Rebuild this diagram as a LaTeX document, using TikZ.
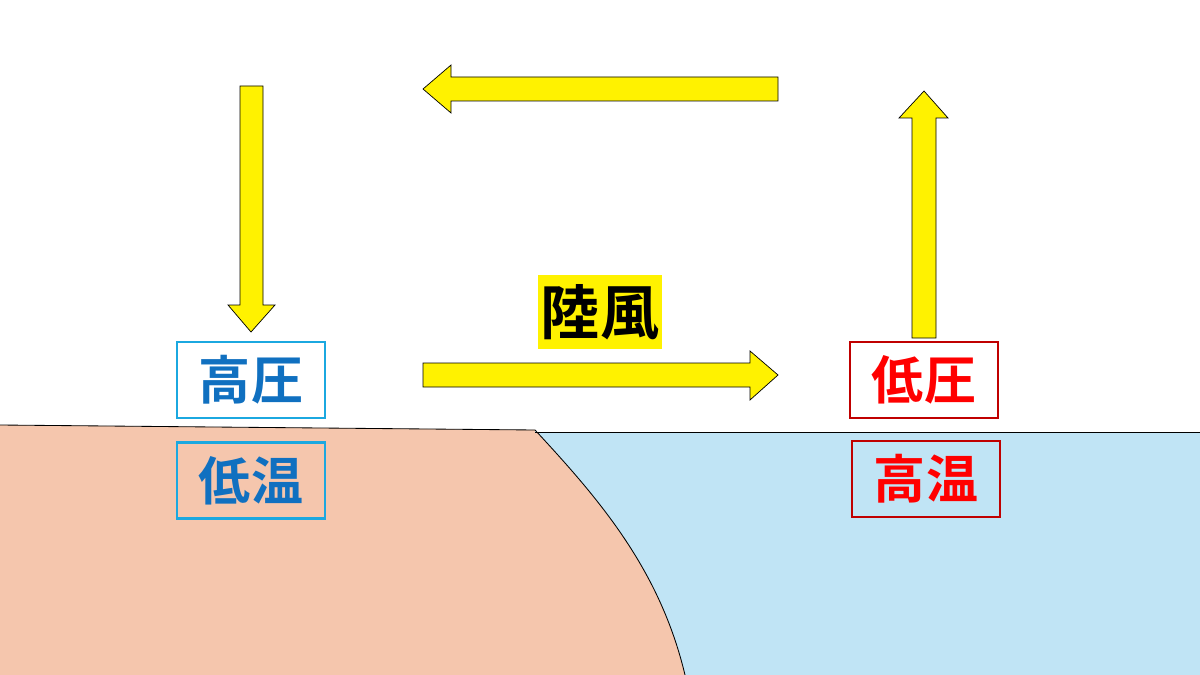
\documentclass[tikz,border=0pt]{standalone}
\usepackage{fontspec}
\newfontfamily\cjk{Noto Sans CJK JP}[BoldFont={* Bold}]
\usetikzlibrary{positioning}
\definecolor{land}{HTML}{F5C6AD}
\definecolor{sea}{HTML}{C0E4F5}
\definecolor{coolline}{HTML}{1BA8E0}
\definecolor{cooltext}{HTML}{1070C0}
\definecolor{warmline}{HTML}{C00000}
\tikzset{
  cold/.style={draw=coolline, line width=1.8pt, text=cooltext, inner sep=0pt, minimum width=3.7cm, minimum height=1.9cm, font=\cjk\bfseries\fontsize{37}{37}\selectfont},
  hot/.style={draw=warmline, line width=1.8pt, text=red, inner sep=0pt, minimum width=3.7cm, minimum height=1.9cm, font=\cjk\bfseries\fontsize{37}{37}\selectfont},
  wind/.style={fill=yellow, draw=black, line width=0.5pt},
}
\begin{document}
\begin{tikzpicture}[x=0.025cm,y=-0.025cm]
\useasboundingbox (0,0) rectangle (1200,675);
% land and sea
\fill[land] (0,425) -- (535,430) .. controls (600,500) and (660,570) .. (685,675) -- (0,675) -- cycle;
\fill[sea] (535,432) -- (1200,432) -- (1200,675) -- (685,675) .. controls (660,570) and (600,500) .. (535,430) -- cycle;
\draw[line width=0.6pt] (0,425) -- (535,430) .. controls (600,500) and (660,570) .. (685,675);
\draw[line width=0.6pt] (535,432) -- (1200,432);
% boxes
\node (hp) [cold] at (251,380) {高圧};
\node (lt) [cold, below=0.55cm of hp] {低温};
\node (lp) [hot] at (924,380) {低圧};
\node (ht) [hot] at (926,479) {高温};
\node (wind) [fill=yellow, inner sep=2pt, minimum width=2.95cm, minimum height=1.85cm, font=\cjk\bfseries\fontsize{42}{42}\selectfont] at (600,312) {陸風};
% circulation arrows
\draw[wind] (240,86) -- (263,86) -- (263,305) -- (275,305) -- (251,332) -- (228,305) -- (240,305) -- cycle;
\draw[wind] (778,77) -- (778,101) -- (451,101) -- (451,113) -- (423,89) -- (451,65) -- (451,77) -- cycle;
\draw[wind] (423,363) -- (750,363) -- (750,351) -- (778,375) -- (750,400) -- (750,387) -- (423,387) -- cycle;
\draw[wind] (912,338) -- (912,118) -- (899,118) -- (924,91) -- (948,118) -- (936,118) -- (936,338) -- cycle;
\end{tikzpicture}
\end{document}
